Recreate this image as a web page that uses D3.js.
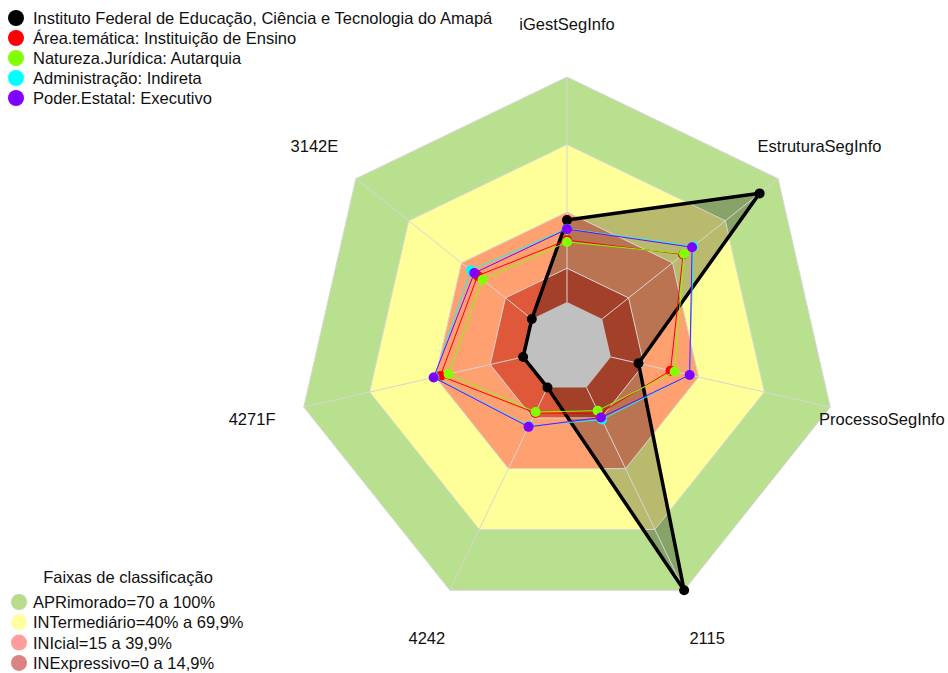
<!DOCTYPE html>
<html>
<head>
<meta charset="utf-8">
<script src="https://cdn.jsdelivr.net/npm/d3@7"></script>
<style>
  body { margin: 0; background: #fff; }
  svg { display: block; font-family: "Liberation Sans", Arial, sans-serif; }
</style>
</head>
<body>
<div id="chart"></div>
<script>
// axes of the radar, clockwise from the top
let axes = ["iGestSegInfo", "EstruturaSegInfo", "ProcessoSegInfo", "2115", "4242", "4271F", "3142E"];

// series values (%), one per axis
let seriesNames = [
  "Instituto Federal de Educação, Ciência e Tecnologia do Amapá",
  "Área.temática: Instituição de Ensino",
  "Natureza.Jurídica: Autarquia",
  "Administração: Indireta",
  "Poder.Estatal: Executivo"
];
let ifap       = [36.4, 89.5, 12.6, 100, 0, 0, 0];
let areaTem    = [27.5, 46.0, 27.2, 12.9, 12.5, 37.7, 30.8];
let natJur     = [26.7, 46.5, 29.1, 11.4, 12.1, 34.0, 28.0];
let admin      = [32.6, 51.8, 35.9, 15.8, 19.0, 40.5, 34.7];
let poder      = [32.4, 51.1, 35.9, 14.8, 19.4, 40.8, 32.7];
let seriesColors = ["#000000", "#ff0000", "#80ff00", "#00ffff", "#8000ff"];

// classification bands
let bandLimits = [100, 70, 40, 15];
let bandFill = ["#b9e08f", "#ffff99", "#ffa070", "#e0583a"];
let bandLabels = ["APRimorado=70 a 100%", "INTermediário=40% a 69,9%", "INIcial=15 a 39,9%", "INExpressivo=0 a 14,9%"];
let bandLegendColors = ["#b8dc8c", "#ffffa0", "#ff9c9c", "#dd8282"];

/** CONSTANTS */
let width = 948,
  height = 673,
  cx = 567,
  cy = 347,
  fontSize = 16.5;

/** SCALES */
let rScale = d3.scaleLinear().domain([0, 100]).range([45, 270]);
let angle = d3.scalePoint().domain(axes).range([0, 2 * Math.PI * (axes.length - 1) / axes.length]);

function pt(ax, v) {
  let a = angle(ax) - Math.PI / 2;
  return [cx + rScale(v) * Math.cos(a), cy + rScale(v) * Math.sin(a)];
}
function ring(v) {
  return axes.map(ax => pt(ax, v));
}
let line = d3.line().curve(d3.curveLinearClosed);

/** MAIN CODE */
let svg = d3.select("#chart").append("svg")
  .attr("width", width)
  .attr("height", height);

// bands, biggest first
svg.selectAll("path.band")
  .data(bandLimits)
  .join("path")
  .attr("class", "band")
  .attr("d", d => line(ring(d)))
  .attr("fill", (d, i) => bandFill[i]);

let allSeries = [ifap, areaTem, natJur, admin, poder];

// translucent fill of the institution
svg.append("path")
  .attr("d", line(axes.map((ax, j) => pt(ax, ifap[j]))))
  .attr("fill", "#000")
  .attr("fill-opacity", 0.27);

// grid: ring outlines and spokes
svg.selectAll("path.grid")
  .data(bandLimits)
  .join("path")
  .attr("class", "grid")
  .attr("d", d => line(ring(d)))
  .attr("fill", "none")
  .attr("stroke", "#d6d6d6")
  .attr("stroke-width", 1);

svg.selectAll("line.spoke")
  .data(axes)
  .join("line")
  .attr("class", "spoke")
  .attr("x1", d => pt(d, 0)[0])
  .attr("y1", d => pt(d, 0)[1])
  .attr("x2", d => pt(d, 100)[0])
  .attr("y2", d => pt(d, 100)[1])
  .attr("stroke", "#d6d6d6")
  .attr("stroke-width", 1);

// grey hole in the middle
svg.append("path")
  .attr("d", line(ring(0)))
  .attr("fill", "#c0c0c0");

// series lines and points
allSeries.forEach((vals, i) => {
  let pts = axes.map((ax, j) => pt(ax, vals[j]));
  let g = svg.append("g");
  g.append("path")
    .attr("d", line(pts))
    .attr("fill", "none")
    .attr("stroke", seriesColors[i])
    .attr("stroke-width", i == 0 ? 3.5 : 1);
  g.selectAll("circle")
    .data(pts)
    .join("circle")
    .attr("cx", d => d[0])
    .attr("cy", d => d[1])
    .attr("r", 5)
    .attr("fill", seriesColors[i]);
});

// axis labels
svg.selectAll("text.axis")
  .data(axes)
  .join("text")
  .attr("class", "axis")
  .attr("x", d => cx + 323 * Math.cos(angle(d) - Math.PI / 2))
  .attr("y", d => cy + 323 * Math.sin(angle(d) - Math.PI / 2))
  .attr("text-anchor", "middle")
  .attr("dominant-baseline", "central")
  .attr("font-size", fontSize)
  .attr("fill", "#111")
  .text(d => d);

// series legend
let leg = svg.append("g");
leg.selectAll("circle")
  .data(seriesNames)
  .join("circle")
  .attr("cx", 16)
  .attr("cy", (d, i) => 18 + i * 20)
  .attr("r", 8)
  .attr("fill", (d, i) => seriesColors[i]);
leg.selectAll("text")
  .data(seriesNames)
  .join("text")
  .attr("x", 33)
  .attr("y", (d, i) => 18 + i * 20)
  .attr("dominant-baseline", "central")
  .attr("font-size", fontSize)
  .attr("fill", "#111")
  .text(d => d);

// classification legend
let leg2 = svg.append("g");
leg2.append("text")
  .attr("x", 128)
  .attr("y", 577)
  .attr("text-anchor", "middle")
  .attr("dominant-baseline", "central")
  .attr("font-size", fontSize)
  .attr("fill", "#111")
  .text("Faixas de classificação");
leg2.selectAll("circle")
  .data(bandLabels)
  .join("circle")
  .attr("cx", 19)
  .attr("cy", (d, i) => 602 + i * 20.3)
  .attr("r", 8)
  .attr("fill", (d, i) => bandLegendColors[i]);
leg2.selectAll("text.item")
  .data(bandLabels)
  .join("text")
  .attr("class", "item")
  .attr("x", 33)
  .attr("y", (d, i) => 602 + i * 20.3)
  .attr("dominant-baseline", "central")
  .attr("font-size", fontSize)
  .attr("fill", "#111")
  .text(d => d);
</script>
</body>
</html>
